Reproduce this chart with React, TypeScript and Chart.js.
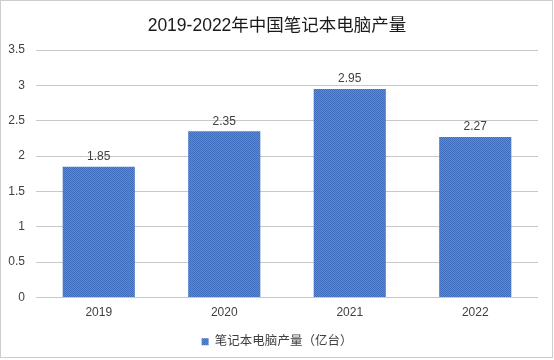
import React, { useEffect, useRef } from "react";
import { Chart, registerables } from "chart.js";

Chart.register(...registerables);

const categories = ["2019", "2020", "2021", "2022"];
const values = [1.85, 2.35, 2.95, 2.27];
const seriesLabel = "笔记本电脑产量（亿台）";
const titleText = "2019-2022年中国笔记本电脑产量";

const FONT = "'Liberation Sans', 'Noto Sans CJK SC', sans-serif";

function makePattern(): CanvasPattern | string {
  const c = document.createElement("canvas");
  c.width = 4;
  c.height = 4;
  const ctx = c.getContext("2d");
  if (!ctx) return "#4a78c4";
  for (let y = 0; y < 4; y++) {
    for (let x = 0; x < 4; x++) {
      ctx.fillStyle = (x + y) % 2 === 0 ? "#3f6dbd" : "#5e8ad2";
      ctx.fillRect(x, y, 1, 1);
    }
  }
  const p = ctx.createPattern(c, "repeat");
  return p || "#4a78c4";
}

const valueLabels = {
  id: "valueLabels",
  afterDatasetsDraw(chart: any) {
    const ctx = chart.ctx;
    const meta = chart.getDatasetMeta(0);
    ctx.save();
    ctx.font = "12px " + FONT;
    ctx.fillStyle = "#404040";
    ctx.textAlign = "center";
    ctx.textBaseline = "bottom";
    meta.data.forEach((bar: any, i: number) => {
      ctx.fillText(String(values[i]), bar.x, bar.y - 4);
    });
    ctx.restore();
  },
};

const frame = {
  id: "frame",
  afterDraw(chart: any) {
    const ctx = chart.ctx;
    ctx.save();
    ctx.strokeStyle = "#9a9a9a";
    ctx.lineWidth = 1;
    ctx.setLineDash([1, 1]);
    ctx.strokeRect(0.5, 0.5, chart.width - 2, chart.height - 3);
    ctx.restore();
  },
};

export default function App() {
  const ref = useRef<HTMLCanvasElement | null>(null);
  useEffect(() => {
    document.body.style.margin = "0";
    if (!ref.current) return;
    const chart = new Chart(ref.current, {
      type: "bar",
      data: {
        labels: categories,
        datasets: [
          {
            label: seriesLabel,
            data: values,
            backgroundColor: makePattern() as any,
            borderWidth: 0,
            barPercentage: 0.575,
            categoryPercentage: 1,
          },
        ],
      },
      options: {
        animation: false,
        responsive: false,
        maintainAspectRatio: false,
        layout: { padding: { left: 0, right: 0, top: 0, bottom: 2 } },
        plugins: {
          title: {
            display: true,
            text: titleText,
            color: "#1a1a1a",
            font: { family: FONT, size: 17.5, weight: "normal" },
            padding: { top: 16, bottom: 13 },
          },
          legend: {
            display: true,
            position: "bottom",
            labels: {
              color: "#404040",
              font: { family: FONT, size: 12.5 },
              boxWidth: 7,
              boxHeight: 7,
              padding: 7,
            },
          },
          tooltip: { enabled: false },
        },
        scales: {
          x: {
            grid: { display: false, drawTicks: false },
            border: { display: false },
            ticks: { color: "#404040", font: { family: FONT, size: 12 }, padding: 8 },
            afterFit(scale: any) {
              scale.height = 31;
            },
          },
          y: {
            min: 0,
            max: 3.5,
            ticks: {
              stepSize: 0.5,
              color: "#404040",
              font: { family: FONT, size: 12 },
              padding: 11,
              callback: (v: any) => String(Number(v)),
            },
            grid: { color: "#c8c8c8", drawTicks: false },
            border: { display: false },
            afterFit(scale: any) {
              scale.width = 36;
            },
          },
          yRight: {
            position: "right",
            min: 0,
            max: 3.5,
            ticks: { display: false },
            grid: { display: false },
            border: { display: false },
            afterFit(scale: any) {
              scale.width = 16;
            },
          },
        },
      },
      plugins: [valueLabels, frame],
    });
    return () => chart.destroy();
  }, []);
  return (
    <div style={{ position: "absolute", left: 0, top: 0, width: 554, height: 360 }}>
      <canvas ref={ref} width={554} height={360} style={{ width: 554, height: 360, display: "block" }} />
    </div>
  );
}
